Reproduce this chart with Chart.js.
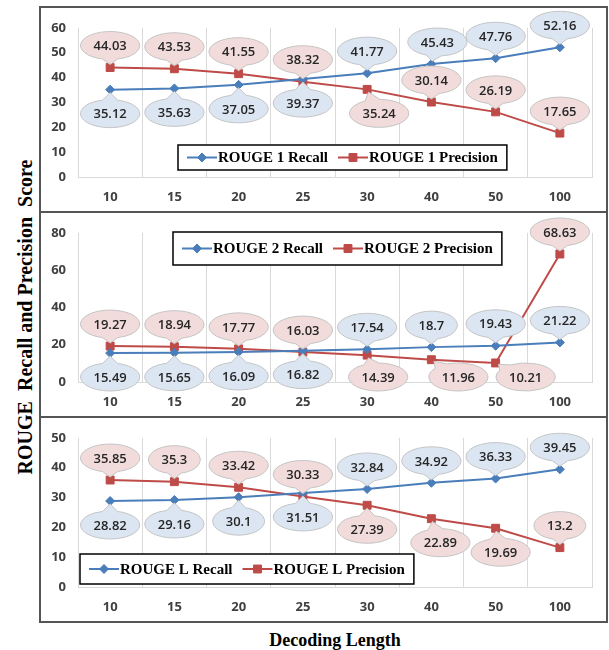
<!DOCTYPE html>
<html>
<head>
<meta charset="utf-8">
<script src="https://cdn.jsdelivr.net/npm/chart.js"></script>
<style>
  body { margin: 0; background: #fff; }
  #wrap { position: relative; width: 609px; height: 650px; overflow: hidden; background: #fff; }
  .panel { position: absolute; left: 39px; width: 569px; height: 207px; box-sizing: border-box; border: 2px solid #555; }
  .panel canvas { display: block; }
  #ytitle { position: absolute; left: 25px; top: 317px; transform: translate(-50%, -50%) rotate(-90deg);
    white-space: pre; font: bold 20px "Liberation Serif", serif; color: #000; }
  #xtitle { position: absolute; left: 335px; top: 630px; transform: translateX(-50%); line-height: 18px;
    white-space: pre; font: bold 18px "Liberation Serif", serif; color: #000; }
</style>
</head>
<body>
<div id="wrap">
  <div class="panel" style="top:6px"><canvas id="c1" width="565" height="203"></canvas></div>
  <div class="panel" style="top:211px"><canvas id="c2" width="565" height="203"></canvas></div>
  <div class="panel" style="top:416px"><canvas id="c3" width="565" height="203"></canvas></div>
  <div id="ytitle">ROUGE  Recall and Precision  Score</div>
  <div id="xtitle">Decoding Length</div>
</div>
<script>
// decoding lengths on the x axis
const lengths = ["10", "15", "20", "25", "30", "40", "50", "100"];

const r1Recall = [35.12, 35.63, 37.05, 39.37, 41.77, 45.43, 47.76, 52.16];
const r1Precision = [44.03, 43.53, 41.55, 38.32, 35.24, 30.14, 26.19, 17.65];
const r2Recall = [15.49, 15.65, 16.09, 16.82, 17.54, 18.7, 19.43, 21.22];
const r2Precision = [19.27, 18.94, 17.77, 16.03, 14.39, 11.96, 10.21, 68.63];
const rlRecall = [28.82, 29.16, 30.1, 31.51, 32.84, 34.92, 36.33, 39.45];
const rlPrecision = [35.85, 35.3, 33.42, 30.33, 27.39, 22.89, 19.69, 13.2];

const r1Ticks = [0, 10, 20, 30, 40, 50, 60];
const r2Ticks = [0, 20, 40, 60, 80];
const rlTicks = [0, 10, 20, 30, 40, 50];

const BLUE = "#4a7ebb", RED = "#be4b48";
const FILLS = ["#dce6f2", "#f2dcdb"];
const tickFont = { family: "'Open Sans', sans-serif", size: 13, weight: "bold" };

function drawMarker(ctx, style, r, x, y) {
  ctx.beginPath();
  if (style === "rectRot") {
    ctx.moveTo(x, y - r); ctx.lineTo(x + r, y); ctx.lineTo(x, y + r); ctx.lineTo(x - r, y);
  } else {
    const s = r * Math.SQRT1_2;
    ctx.rect(x - s, y - s, 2 * s, 2 * s);
  }
  ctx.closePath();
  ctx.fill();
  ctx.stroke();
}

// excel-like wedge ellipse callout
function callout(ctx, px, py, cx, cy, text, fill) {
  const rx = ctx.measureText(text).width / 2 + 13, ry = 14;
  const dx = px - cx, dy = py - cy;
  ctx.beginPath();
  if ((dx / rx) ** 2 + (dy / ry) ** 2 > 1.15) {
    const len = Math.hypot(dx, dy);
    const tx = px - dx / len * 3, ty = py - dy / len * 3;
    const a = Math.atan2(dy / ry, dx / rx);
    ctx.ellipse(cx, cy, rx, ry, 0, a + 0.26, a - 0.26 + Math.PI * 2);
    ctx.lineTo(tx, ty);
    ctx.closePath();
  } else {
    ctx.ellipse(cx, cy, rx, ry, 0, 0, Math.PI * 2);
  }
  ctx.fillStyle = fill;
  ctx.fill();
  ctx.strokeStyle = "#c4c4c4";
  ctx.lineWidth = 1;
  ctx.stroke();
  ctx.fillStyle = "#262626";
  ctx.fillText(text, cx, cy + 1);
}

// place: U = label above the point, D = below; shift: sideways nudge per index
function calloutPlugin(place, shift) {
  return {
    id: "callouts",
    afterDatasetsDraw(chart) {
      const ctx = chart.ctx, area = chart.chartArea;
      ctx.save();
      ctx.font = "600 13px 'Open Sans'";
      ctx.textAlign = "center";
      ctx.textBaseline = "middle";
      chart.data.datasets.forEach((ds, di) => {
        const meta = chart.getDatasetMeta(di);
        meta.data.forEach((pt, i) => {
          const cx = pt.x + (shift[di][i] || 0);
          let cy = place[di][i] === "U" ? pt.y - 22 : pt.y + 24;
          cy = Math.min(cy, area.bottom - 5);
          callout(ctx, pt.x, pt.y, cx, cy, String(ds.data[i]), FILLS[di]);
        });
      });
      ctx.restore();
    }
  };
}

function boxLegend(bx, by, bh) {
  return {
    id: "boxLegend",
    afterDraw(chart) {
      const ctx = chart.ctx;
      ctx.save();
      ctx.font = "bold 15px 'Liberation Serif'";
      const pad = 9, sample = 30, gap = 10;
      const items = chart.data.datasets.map(ds => ({ ds, tw: ctx.measureText(ds.label).width }));
      const w = pad * 2 + items.reduce((s, it) => s + sample + 1 + it.tw, 0) + gap * (items.length - 1);
      ctx.fillStyle = "#fff";
      ctx.fillRect(bx, by, w, bh);
      ctx.strokeStyle = "#000";
      ctx.lineWidth = 1.5;
      ctx.strokeRect(bx, by, w, bh);
      let x = bx + pad;
      const y = by + bh / 2;
      items.forEach(({ ds, tw }) => {
        ctx.strokeStyle = ds.borderColor;
        ctx.lineWidth = 2;
        ctx.beginPath(); ctx.moveTo(x, y); ctx.lineTo(x + sample, y); ctx.stroke();
        ctx.fillStyle = ds.backgroundColor;
        ctx.lineWidth = 1;
        drawMarker(ctx, ds.pointStyle, ds.pointRadius, x + sample / 2, y);
        ctx.fillStyle = "#000";
        ctx.textAlign = "left";
        ctx.textBaseline = "middle";
        ctx.fillText(ds.label, x + sample + 1, y + 1);
        x += sample + 1 + tw + gap;
      });
      ctx.restore();
    }
  };
}

function panel(id, name, recall, precision, ticks, place, shift, legendAt) {
  return new Chart(document.getElementById(id), {
    type: "line",
    data: {
      labels: lengths,
      datasets: [
        { label: name + " Recall", data: recall, borderColor: BLUE, backgroundColor: BLUE, borderWidth: 2,
          pointStyle: "rectRot", pointRadius: 4.5, pointBorderWidth: 1, tension: 0 },
        { label: name + " Precision", data: precision, borderColor: RED, backgroundColor: RED, borderWidth: 2,
          pointStyle: "rect", pointRadius: 5.6, pointBorderWidth: 1, tension: 0 }
      ]
    },
    options: {
      responsive: false, animation: false,
      layout: { padding: { top: 15, right: 14, left: 0, bottom: 0 } },
      plugins: { legend: { display: false }, tooltip: { enabled: false } },
      scales: {
        x: {
          offset: true,
          grid: { color: "#d9d9d9", offset: true, drawTicks: false },
          border: { color: "#d9d9d9" },
          ticks: { color: "#404040", font: tickFont, padding: 12 },
          afterFit: s => { s.height = 34; }
        },
        y: {
          min: ticks[0], max: ticks[ticks.length - 1],
          grid: { display: false, drawTicks: false },
          border: { display: false },
          ticks: { stepSize: ticks[1] - ticks[0], color: "#404040", font: tickFont, padding: 12 },
          afterFit: s => { s.width = 37; }
        }
      }
    },
    plugins: [calloutPlugin(place, shift), boxLegend(...legendAt)]
  });
}

panel("c1", "ROUGE 1", r1Recall, r1Precision, r1Ticks,
  ["DDDDUUUU", "UUUUDUUU"], [{ 5: 6 }, { 4: 12 }], [137, 137, 25]);
panel("c2", "ROUGE 2", r2Recall, r2Precision, r2Ticks,
  ["DDDDUUUU", "UUUUDDDU"], [{}, { 4: 11, 5: 27, 6: 30 }], [132, 19, 33]);
panel("c3", "ROUGE L", rlRecall, rlPrecision, rlTicks,
  ["DDDDUUUU", "UUUUDDDU"], [{}, { 5: 9, 6: 5 }], [39, 136, 30]);
</script>
</body>
</html>
